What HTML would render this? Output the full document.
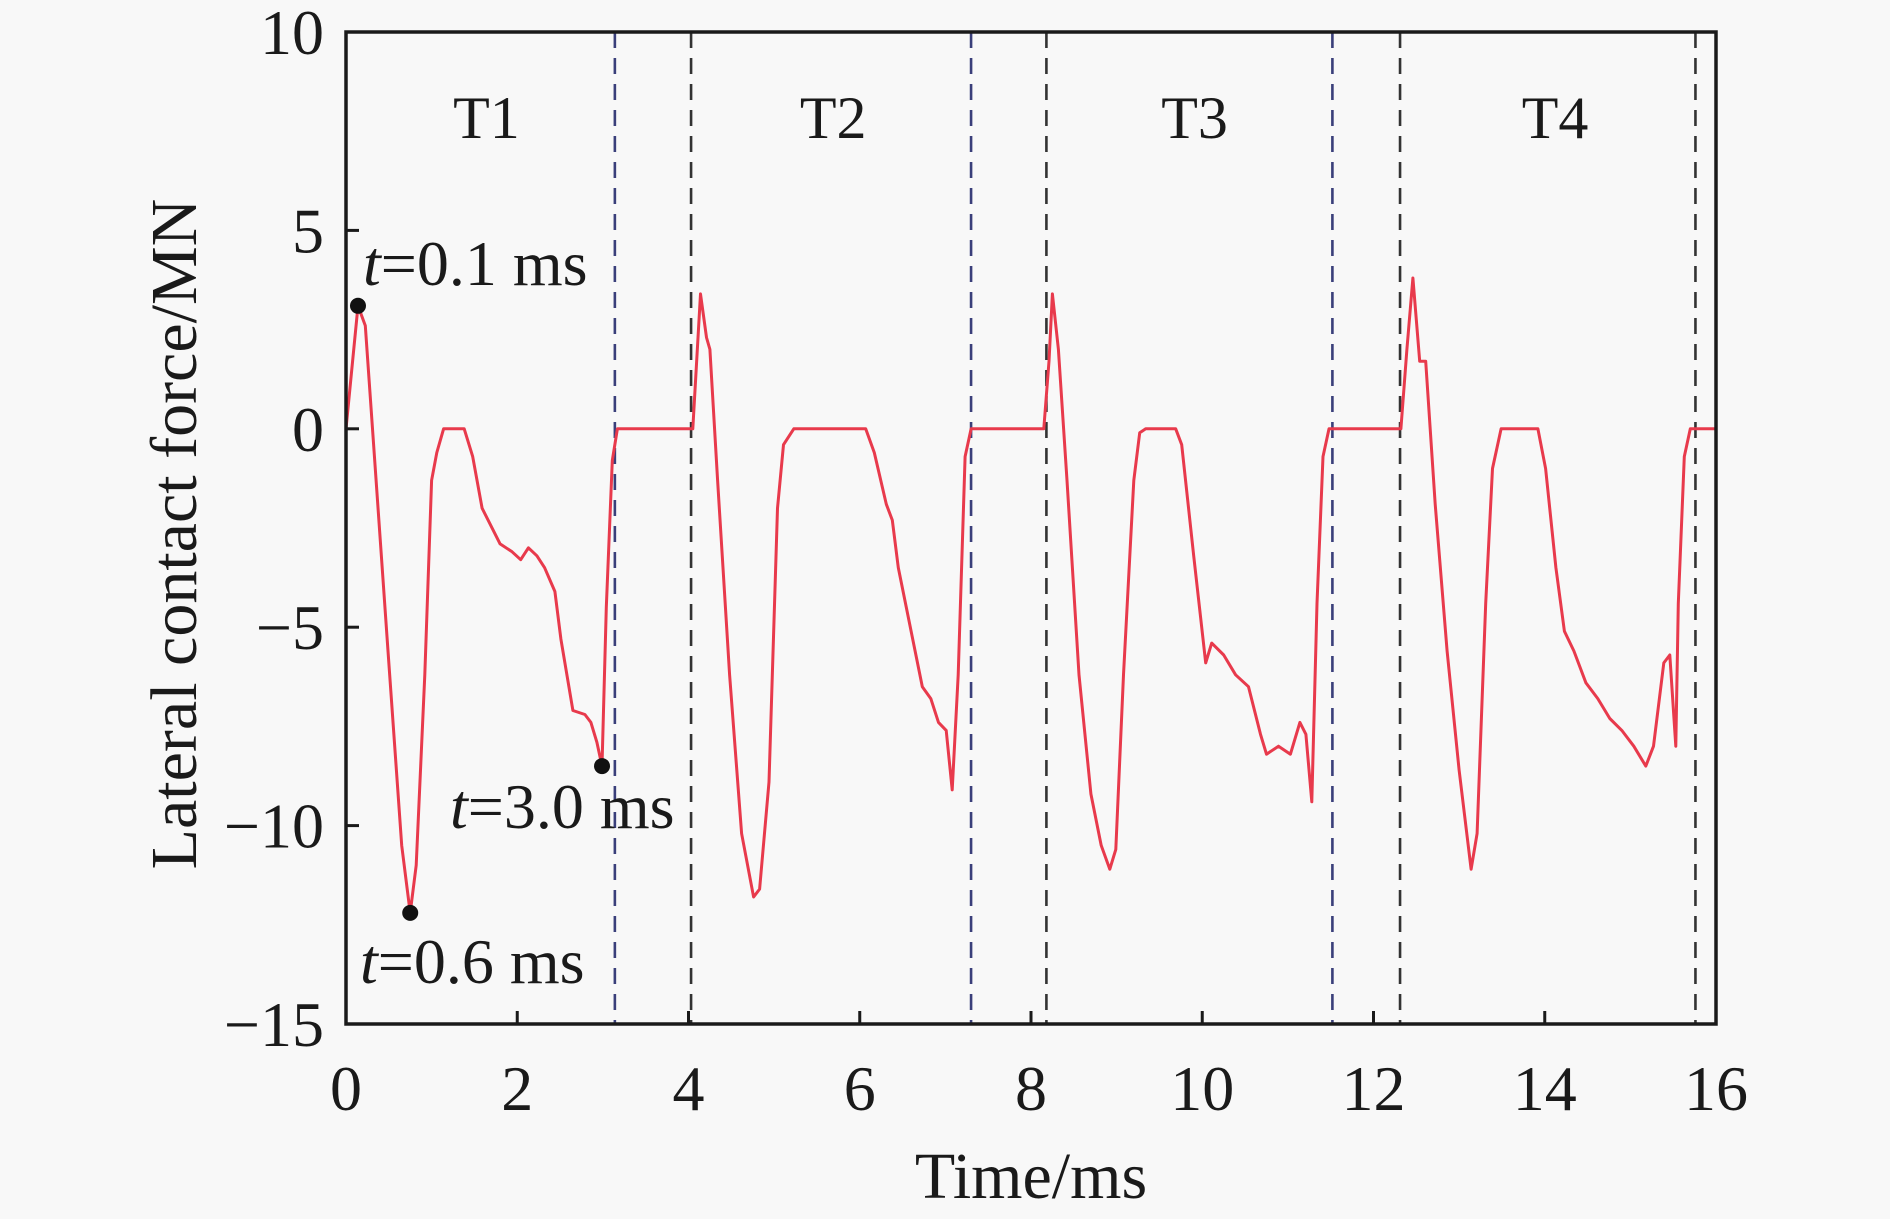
<!DOCTYPE html>
<html><head><meta charset="utf-8"><style>
html,body{margin:0;padding:0;background:#f8f8f8;}
svg{display:block;font-family:"Liberation Serif",serif;}
</style></head><body>
<svg id="chart" width="1890" height="1219" viewBox="0 0 1890 1219"></svg>
<script>
const xTicks=[0,2,4,6,8,10,12,14,16];
const yTicks=[10,5,0,-5,-10,-15];
const yTickLabels=["10","5","0","\u22125","\u221210","\u221215"];
const timeMs=[0,0.14,0.225,0.49,0.65,0.75,0.82,0.92,1.0,1.06,1.14,1.38,1.48,1.59,1.80,1.94,2.04,2.13,2.23,2.32,2.44,2.51,2.65,2.79,2.86,2.93,2.99,3.04,3.11,3.17,
4.05,4.14,4.21,4.25,4.34,4.48,4.62,4.76,4.83,4.94,5.04,5.11,5.23,6.07,6.17,6.31,6.38,6.45,6.59,6.73,6.83,6.92,7.01,7.08,7.15,7.23,7.30,
8.15,8.21,8.25,8.32,8.42,8.56,8.70,8.82,8.92,8.99,9.08,9.20,9.27,9.34,9.69,9.76,9.90,10.04,10.11,10.25,10.39,10.54,10.68,10.75,10.89,11.03,11.14,11.21,11.28,11.34,11.41,11.48,
12.32,12.39,12.46,12.54,12.61,12.72,12.86,13.0,13.14,13.21,13.31,13.39,13.49,13.92,14.01,14.13,14.23,14.34,14.48,14.62,14.76,14.90,15.04,15.18,15.27,15.39,15.46,15.53,15.56,15.63,15.70,16];
const forceMN=[0,3.1,2.6,-5.6,-10.5,-12.2,-11,-6.2,-1.3,-0.6,0,0,-0.7,-2,-2.9,-3.1,-3.3,-3.0,-3.2,-3.5,-4.1,-5.3,-7.1,-7.2,-7.4,-7.9,-8.5,-4.5,-0.8,0,
0,3.4,2.3,2.0,-1.3,-6.2,-10.2,-11.8,-11.6,-8.9,-2,-0.4,0,0,-0.6,-1.9,-2.3,-3.5,-5,-6.5,-6.8,-7.4,-7.6,-9.1,-6.2,-0.7,0,
0,1.7,3.4,2,-1.3,-6.2,-9.2,-10.5,-11.1,-10.6,-6.2,-1.3,-0.1,0,0,-0.4,-3.2,-5.9,-5.4,-5.7,-6.2,-6.5,-7.7,-8.2,-8.0,-8.2,-7.4,-7.7,-9.4,-4.4,-0.7,0,
0,2,3.8,1.7,1.7,-1.9,-5.6,-8.6,-11.1,-10.2,-4.4,-1.0,0,0,-1,-3.5,-5.1,-5.6,-6.4,-6.8,-7.3,-7.6,-8.0,-8.5,-8.0,-5.9,-5.7,-8.0,-4.4,-0.7,0,0];
const dividerTimes=[3.14,4.03,7.30,8.18,11.52,12.31,15.76];
const dividerBlue=[true,false,true,false,true,false,false];
const periodLabels=["T1","T2","T3","T4"];
const periodCenters=[1.64,5.69,9.91,14.12];
const markTimes=[0.14,0.75,2.99];
const markForces=[3.1,-12.2,-8.5];
const markLabels=["=0.1 ms","=0.6 ms","=3.0 ms"];

const L=346,R=1716,T=32,B=1024;
const xs=v=>L+(v-0)/16*(R-L);
const ys=v=>T+(10-v)/25*(B-T);
const svg=document.getElementById('chart');
const NS='http://www.w3.org/2000/svg';
function mk(tag,attrs,parent){const e=document.createElementNS(NS,tag);for(const k in attrs)e.setAttribute(k,attrs[k]);(parent||svg).appendChild(e);return e;}

dividerTimes.forEach((t,i)=>{
  const l=mk('line',{x1:xs(t),x2:xs(t),y1:T,y2:B,stroke:dividerBlue[i]?'#3a3f7a':'#333','stroke-width':2.6,'stroke-dasharray':'16,10'});
  
  
});
const p=mk('path',{d:timeMs.map((t,i)=>(i?'L':'M')+xs(t).toFixed(1)+','+ys(forceMN[i]).toFixed(1)).join(''),fill:'none',stroke:'#e83a4c','stroke-width':3,'stroke-linejoin':'round'});


const fr=mk('rect',{x:L,y:T,width:R-L,height:B-T,fill:'none',stroke:'#1a1a1a','stroke-width':3.5});


xTicks.forEach(v=>{
  mk('line',{x1:xs(v),x2:xs(v),y1:B,y2:B-13,stroke:'#1a1a1a','stroke-width':3});
  const t=mk('text',{x:xs(v),y:B+86,'text-anchor':'middle','font-size':64,fill:'#1a1a1a'});
  t.textContent=v;
  
  
});
yTicks.forEach((v,i)=>{
  mk('line',{x1:L,x2:L+13,y1:ys(v),y2:ys(v),stroke:'#1a1a1a','stroke-width':3});
  const t=mk('text',{x:324,y:ys(v)+22,'text-anchor':'end','font-size':64,fill:'#1a1a1a'});
  t.textContent=yTickLabels[i];
  
  
});
periodLabels.forEach((s,i)=>{
  const t=mk('text',{x:xs(periodCenters[i]),y:138,'text-anchor':'middle','font-size':60,fill:'#1a1a1a'});
  t.textContent=s;
  
  
});
markTimes.forEach((t,i)=>{
  const c=mk('circle',{cx:xs(t),cy:ys(markForces[i]),r:8,fill:'#111'});
  
  
});
const annPos=[[363,285],[360,983],[450,828]];
annPos.forEach((pp,i)=>{
  const t=mk('text',{x:pp[0],y:pp[1],'font-size':64,fill:'#1a1a1a'});
  const it=mk('tspan',{'font-style':'italic'},t);it.textContent='t';
  const rest=mk('tspan',{},t);rest.textContent=markLabels[i];
  
  
});
const xt=mk('text',{x:1031,y:1198,'text-anchor':'middle','font-size':66,fill:'#1a1a1a'});
xt.textContent='Time/ms';


const yt=mk('text',{x:0,y:0,'text-anchor':'middle','font-size':66,fill:'#1a1a1a',transform:'translate(196,534) rotate(-90)'});
yt.textContent='Lateral contact force/MN';


</script>
</body></html>
